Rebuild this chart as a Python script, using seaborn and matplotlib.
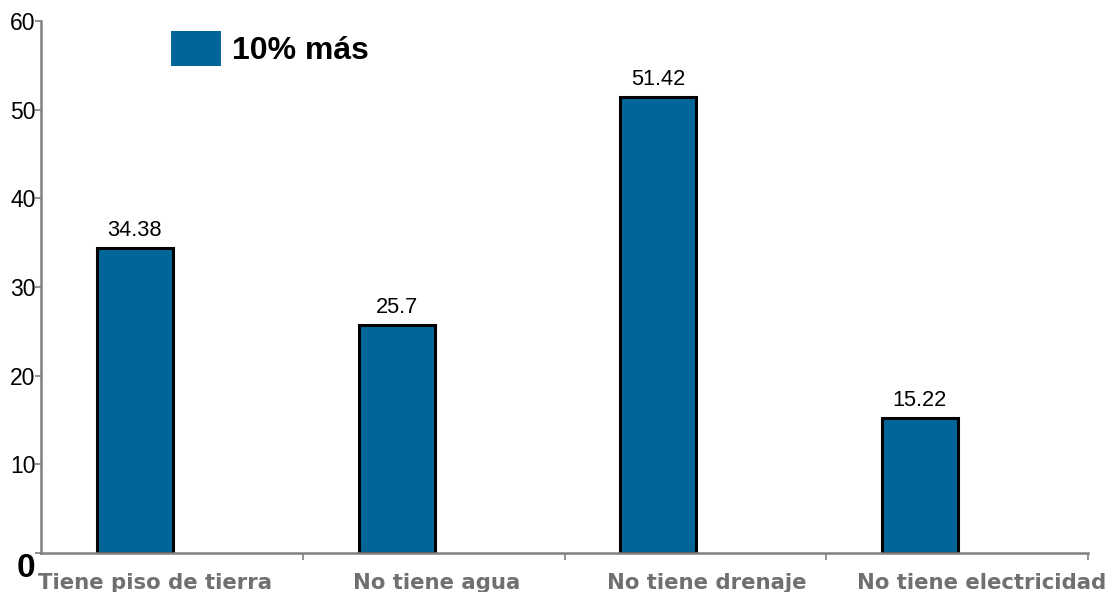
import matplotlib
matplotlib.use("Agg")
import matplotlib.pyplot as plt
import seaborn as sns
import pandas as pd
from matplotlib.patches import Patch

categories = ["Tiene piso de tierra", "No tiene agua", "No tiene drenaje", "No tiene electricidad"]
values = [34.38, 25.7, 51.42, 15.22]
series_name = "10% más"
y_ticks = [0, 10, 20, 30, 40, 50, 60]

df = pd.DataFrame({"cat": categories, "val": values})

sns.set_style("white")
plt.rcParams["font.family"] = ["Liberation Sans", "DejaVu Sans"]

fig = plt.figure(figsize=(11.07, 5.92), dpi=100)
ax = fig.add_axes([41/1107, 39/592, (1088-41)/1107, (553-21)/592])

bar_color = "#006699"
sns.barplot(data=df, x="cat", y="val", color=bar_color, width=0.29,
            edgecolor="black", linewidth=2.2, saturation=1, ax=ax)

ax.set_xlim(-0.359, 3.642)
ax.set_ylim(0, 60)
ax.set_xlabel("")
ax.set_ylabel("")

for s in ["top", "right"]:
    ax.spines[s].set_visible(False)
for s in ["left", "bottom"]:
    ax.spines[s].set_color("#808080")
    ax.spines[s].set_linewidth(1.8)

# y ticks
ax.set_yticks(y_ticks)
ax.set_yticklabels([str(t) for t in y_ticks])
ax.tick_params(axis="y", left=True, direction="out", length=4, width=1.2, color="#808080",
               pad=0, labelsize=16.5, labelcolor="black")
lbls = ax.get_yticklabels()
lbls[0].set_fontsize(24)
lbls[0].set_fontweight("bold")
lbls[0].set_va("top")

# x ticks at category boundaries
ax.set_xticks([i + 0.642 for i in range(len(categories))])
ax.set_xticklabels([])
ax.tick_params(axis="x", bottom=True, direction="out", length=5, width=1.2, color="#808080")

# category labels
label_offsets = [0.076, 0.153, 0.187, 0.237]
for i, (c, off) in enumerate(zip(categories, label_offsets)):
    ax.text(i + off, -2.3, c, ha="center", va="top", fontsize=15.3, fontweight="bold",
            color="#707070", family="DejaVu Sans", transform=ax.transData, clip_on=False)

# value labels
for i, v in enumerate(values):
    ax.text(i, v + 0.8, f"{v:g}", ha="center", va="bottom", fontsize=15.7, color="black")

handle = Patch(facecolor=bar_color, edgecolor="none")
leg = ax.legend([handle], [series_name], loc="upper left", bbox_to_anchor=(0.1123, 1.0056),
                frameon=False, prop={"weight": "bold", "size": 23},
                handlelength=1.55, handleheight=1.32, handletextpad=0.35, borderaxespad=0)
for t in leg.get_texts():
    t.set_color("black")

fig.savefig("out.png", dpi=100)
